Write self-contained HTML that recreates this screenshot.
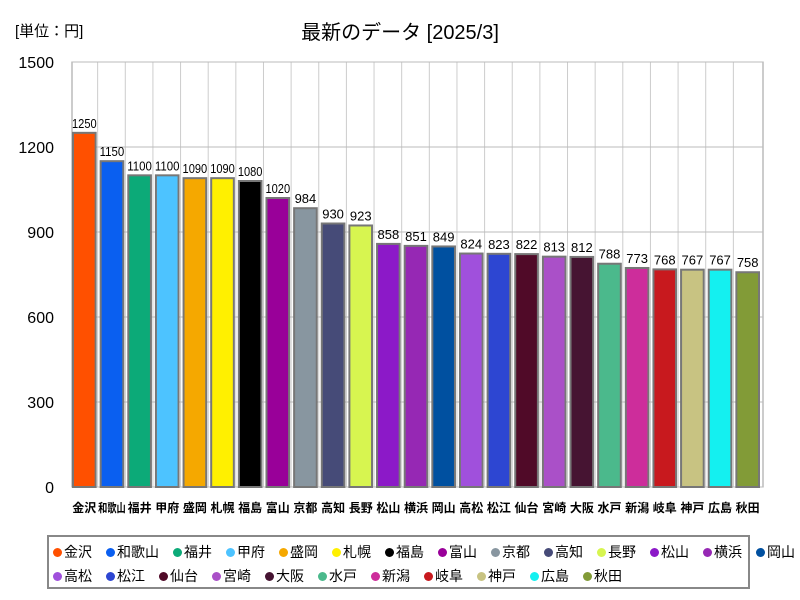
<!DOCTYPE html>
<html><head><meta charset="utf-8"><style>
body{margin:0;background:#fff;font-family:"Liberation Sans","Noto Sans CJK JP",sans-serif}
#wrap{position:relative;width:800px;height:600px}
.legend{position:absolute;left:47px;top:535px;width:703px;height:54px;border:2px solid #888;box-sizing:border-box;font-size:14px;padding:3px 0 0 4px}
.row{display:flex;height:24px;align-items:center}
.item{margin-right:14px;display:flex;align-items:center;white-space:nowrap}
.dot{width:9px;height:9px;border-radius:50%;display:inline-block;margin-right:2px}
</style></head><body><div id="wrap">
<div style="position:absolute;left:15px;top:20px;font-size:15px">[単位：円]</div>
<div style="position:absolute;left:0;width:800px;text-align:center;top:16px;font-size:20px">最新のデータ [2025/3]</div>
<svg id="svg" width="800" height="600" style="position:absolute;left:0;top:0"></svg>
<div class="legend" id="legend"></div>
</div>
<script>
const categories=["金沢","和歌山","福井","甲府","盛岡","札幌","福島","富山","京都","高知","長野","松山","横浜","岡山","高松","松江","仙台","宮崎","大阪","水戸","新潟","岐阜","神戸","広島","秋田"].slice(0,0);
const cats=["金沢","和歌山","福井","甲府","盛岡","札幌","福島","富山","京都","高知","長野","松山","横浜","岡山","高松","松江","仙台","宮崎","大阪","水戸","新潟","岐阜","神戸","広島","秋田"];
const values=[1250,1150,1100,1100,1090,1090,1080,1020,984,930,923,858,851,849,824,823,822,813,812,788,773,768,767,767,758];
const colors=["#ff5000","#0a5ff0","#0caa78","#4dc3ff","#f5a800","#fff000","#000000","#990099","#8896a0","#464b78","#d7f550","#8c19c8","#9628b4","#0050a0","#a050dc","#2d46d2","#500a28","#aa50c8","#461432","#4bb98c","#cd2d9b","#c8191e","#c8c382","#14f0f0","#829b37"];
const yTicks=[0,300,600,900,1200,1500];
const X0=72,X1=763,Y0=487,Y1=62,MAX=1500;
const y=v=>Y0-(v/MAX)*(Y0-Y1);
const slot=(X1-X0)/cats.length;
const x=i=>X0+i*slot;
const svg=document.getElementById('svg');const NS="http://www.w3.org/2000/svg";
function mk(t,a){const e=document.createElementNS(NS,t);for(const k in a)e.setAttribute(k,a[k]);svg.appendChild(e);return e;}
const bg=mk('rect',{x:X0,y:Y1,width:X1-X0,height:Y0-Y1,fill:'#fff',stroke:'#999','stroke-width':1});


for(let i=1;i<cats.length;i++){const l=mk('line',{x1:x(i)-2,x2:x(i)-2,y1:Y1,y2:Y0,stroke:'#ccc'});

}
yTicks.forEach(t=>{const l=mk('line',{x1:X0,x2:X1,y1:y(t),y2:y(t),stroke:'#bbb'});


const tx=mk('text',{x:X0-18,y:y(t)+6,'text-anchor':'end','font-size':16,fill:'#000'});tx.textContent=t;

});
cats.forEach((c,i)=>{
const bx=x(i)+1,bw=slot-5;
const r=mk('rect',{x:bx,y:y(values[i]),width:bw,height:Y0-y(values[i]),fill:colors[i],stroke:'#777','stroke-width':2});


const lb=mk('text',{x:bx+bw/2,y:y(values[i])-5,'text-anchor':'middle','font-size':13,fill:'#000','textLength':slot-3,'lengthAdjust':'spacingAndGlyphs'});lb.textContent=values[i];
if(String(values[i]).length<4)lb.removeAttribute('textLength');


const xl=mk('text',{x:bx+bw/2,y:512,'text-anchor':'middle','font-size':12,'font-weight':'bold',fill:'#000'});xl.textContent=c;
if(c.length>2){xl.setAttribute('textLength',slot);xl.setAttribute('lengthAdjust','spacingAndGlyphs');}


});
const lg=document.getElementById('legend');let row;
cats.forEach((c,i)=>{if(i===0||i===14){row=document.createElement('div');row.className='row';lg.appendChild(row);}
const it=document.createElement('span');it.className='item';


it.innerHTML='<span class="dot" style="background:'+colors[i]+'"></span>'+c;row.appendChild(it);});
</script></body></html>
